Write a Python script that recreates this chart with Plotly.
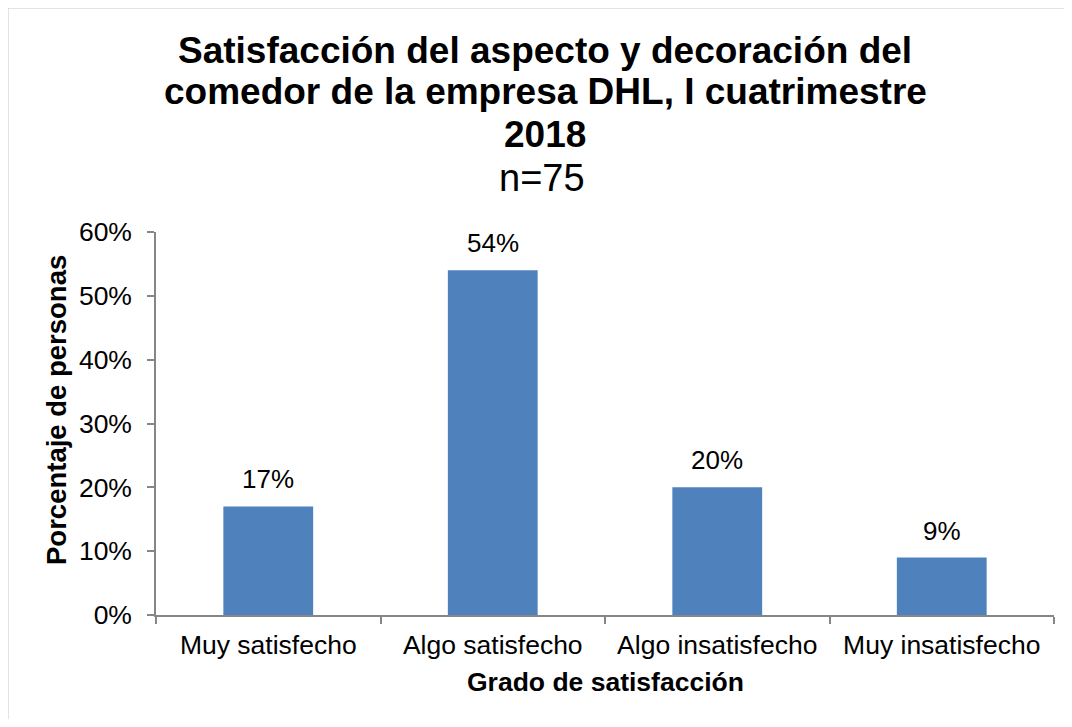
import plotly.graph_objects as go

categories = ["Muy satisfecho", "Algo satisfecho", "Algo insatisfecho", "Muy insatisfecho"]
values = [0.17, 0.54, 0.20, 0.09]
title_lines = ["Satisfacción del aspecto y decoración del",
               "comedor de la empresa DHL, I cuatrimestre",
               "2018"]
subtitle = "n=75"
x_title = "Grado de satisfacción"
y_title = "Porcentaje de personas"

OFF = 8  # page body margin
W, H = 1072 - 2 * OFF, 727 - 2 * OFF
L, R, T, B = 156 - OFF, 1054 - OFF, 232 - OFF, 615 - OFF
FONT = "Liberation Sans, Arial, sans-serif"
BAR = "#4F81BD"
AX = "#868686"


def px(x):
    return (x - OFF - L) / (R - L)


def py(y):
    return (B - (y - OFF)) / (B - T)


fig = go.Figure()
fig.add_trace(go.Bar(
    x=categories, y=values, width=0.4,
    marker=dict(color=BAR, line=dict(width=0)),
    hoverinfo="skip",
))

annotations = []
for c, v in zip(categories, values):
    annotations.append(dict(
        x=c, y=v, xref="x", yref="y", text=f"{round(v*100)}%",
        showarrow=False, yanchor="bottom", yshift=10,
        font=dict(family=FONT, size=26, color="#000000"),
    ))

title_y = [50, 92, 135]
for t, yy in zip(title_lines, title_y):
    annotations.append(dict(
        x=px(545), y=py(yy), xref="paper", yref="paper", text=f"<b>{t}</b>",
        showarrow=False, xanchor="center", yanchor="middle",
        font=dict(family=FONT, size=37, color="#000000"),
    ))
annotations.append(dict(
    x=px(542), y=py(178), xref="paper", yref="paper", text=subtitle,
    showarrow=False, xanchor="center", yanchor="middle",
    font=dict(family=FONT, size=38, color="#000000"),
))
annotations.append(dict(
    x=px(605), y=py(682), xref="paper", yref="paper", text=f"<b>{x_title}</b>",
    showarrow=False, xanchor="center", yanchor="middle",
    font=dict(family=FONT, size=26.5, color="#000000"),
))
annotations.append(dict(
    x=px(56), y=py(410), xref="paper", yref="paper", text=f"<b>{y_title}</b>",
    showarrow=False, xanchor="center", yanchor="middle", textangle=-90,
    font=dict(family=FONT, size=27.5, color="#000000"),
))

shapes = [
    dict(type="line", xref="paper", yref="paper", x0=px(7), x1=px(1072),
         y0=py(7.5), y1=py(7.5), line=dict(color="#C8C8C8", width=2)),
    dict(type="line", xref="paper", yref="paper", x0=px(7.5), x1=px(7.5),
         y0=py(7), y1=py(727), line=dict(color="#C8C8C8", width=2)),
]

fig.update_layout(
    width=W, height=H,
    margin=dict(l=L, r=W - R, t=T, b=H - B, pad=0),
    paper_bgcolor="white", plot_bgcolor="white",
    showlegend=False,
    bargap=0.6,
    annotations=annotations,
    shapes=shapes,
    font=dict(family=FONT, size=26, color="#000000"),
)
fig.update_xaxes(
    showline=True, linecolor=AX, linewidth=1.5,
    ticks="outside", ticklen=7, tickcolor=AX, tickwidth=1.5,
    tickson="boundaries", showgrid=False, zeroline=False,
    tickfont=dict(family=FONT, size=26.5, color="#000000"),
    ticklabelstandoff=5,
)
fig.update_yaxes(
    range=[0, 0.6], dtick=0.1, tickformat=".0%",
    showline=True, linecolor=AX, linewidth=1.5,
    ticks="outside", ticklen=7, tickcolor=AX, tickwidth=1.5,
    showgrid=False, zeroline=False,
    tickfont=dict(family=FONT, size=26.5, color="#000000"),
    ticklabelstandoff=10,
)

fig.write_html("out.html")
